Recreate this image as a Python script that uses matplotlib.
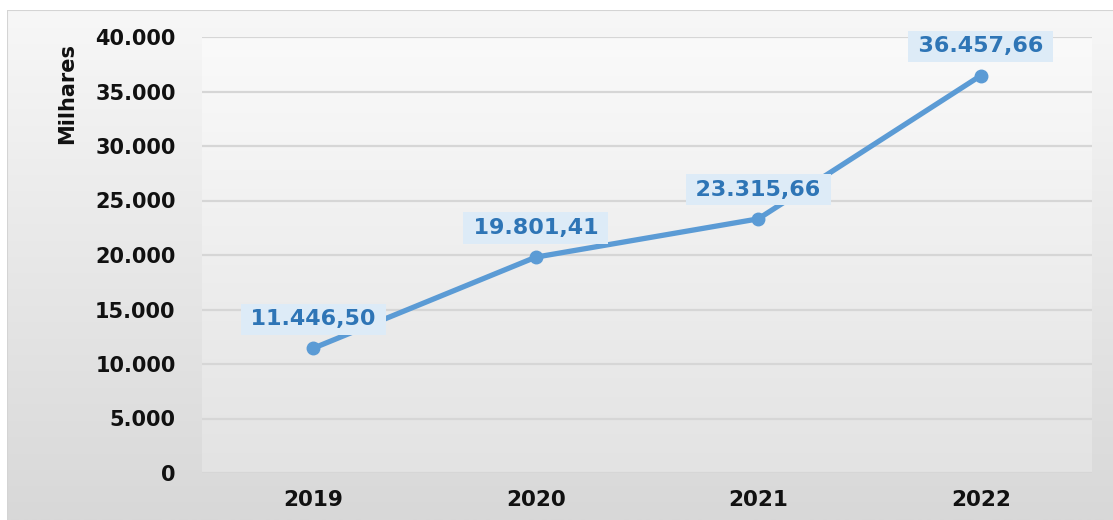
import matplotlib.pyplot as plt
import numpy as np
from matplotlib.ticker import FuncFormatter
from matplotlib.patches import Rectangle
from matplotlib.colors import LinearSegmentedColormap

anos = ["2019", "2020", "2021", "2022"]
valores = [11446.50, 19801.41, 23315.66, 36457.66]
yticks = [0, 5000, 10000, 15000, 20000, 25000, 30000, 35000, 40000]

W, H = 1113, 520
LINHA = "#5b9bd5"
ROTULO = "#2e75b6"
CAIXA = "#ddebf7"

plt.rcParams["font.family"] = "DejaVu Sans"
plt.rcParams["font.weight"] = "bold"


def br(v, casas=0):
    s = "{:,.{}f}".format(v, casas)
    return s.replace(",", "#").replace(".", ",").replace("#", ".")


fig = plt.figure(figsize=(W / 100, H / 100), dpi=100)
fig.patch.set_facecolor("white")

# moldura com degrade claro -> cinza
bg = fig.add_axes([7 / W, 0, 1 - 7 / W, (H - 10) / H])
bg.set_axis_off()
grad = np.linspace(0, 1, 256).reshape(-1, 1)
bg.imshow(grad, cmap=LinearSegmentedColormap.from_list("fundo", ["#f7f7f7", "#d8d8d8"]),
          aspect="auto", extent=[0, 1, 1, 0])
bg.set_xlim(0, 1)
bg.set_ylim(1, 0)
bg.add_patch(Rectangle((0, 0), 1.2, 1.2, fill=False, ec="#d4d4d4", lw=1.5))

ax = fig.add_axes([202 / W, (H - 473) / H, 890 / W, 436 / H])
ax.set_xlim(-0.5, 3.5)
ax.set_ylim(0, 40000)
ax.imshow(grad, cmap=LinearSegmentedColormap.from_list("area", ["#fafafa", "#e3e3e3"]),
          aspect="auto", extent=[-0.5, 3.5, 0, 40000], origin="upper", zorder=0)
ax.set_facecolor("none")
for s in ax.spines.values():
    s.set_visible(False)

ax.set_yticks(yticks)
ax.yaxis.set_major_formatter(FuncFormatter(lambda v, p: br(v)))
ax.grid(axis="y", color="#d6d6d6", lw=1.6, zorder=1)
ax.set_xticks(range(len(anos)))
ax.set_xticklabels(anos)
ax.tick_params(axis="both", length=0, colors="#111111")
ax.tick_params(axis="y", labelsize=15, pad=19)
ax.tick_params(axis="x", labelsize=15.5, pad=12)

x = np.arange(len(anos))
ax.plot(x, valores, color=LINHA, lw=3.8, marker="o", markersize=9,
        solid_capstyle="round", zorder=3)

for xi, v in zip(x, valores):
    ax.annotate("\u2009" + br(v, 2) + "\u2009", (xi, v), xytext=(0, 21),
                textcoords="offset points", ha="center", va="center",
                fontsize=16, fontweight="bold", color=ROTULO, zorder=4,
                annotation_clip=False,
                bbox=dict(boxstyle="square,pad=0.25", fc=CAIXA, ec="none"))

fig.text(67 / W, 1 - 93 / H, "Milhares", rotation=90, ha="center",
         va="center", fontsize=15, fontweight="bold", color="#111111")

fig.savefig("out.png", dpi=100)
